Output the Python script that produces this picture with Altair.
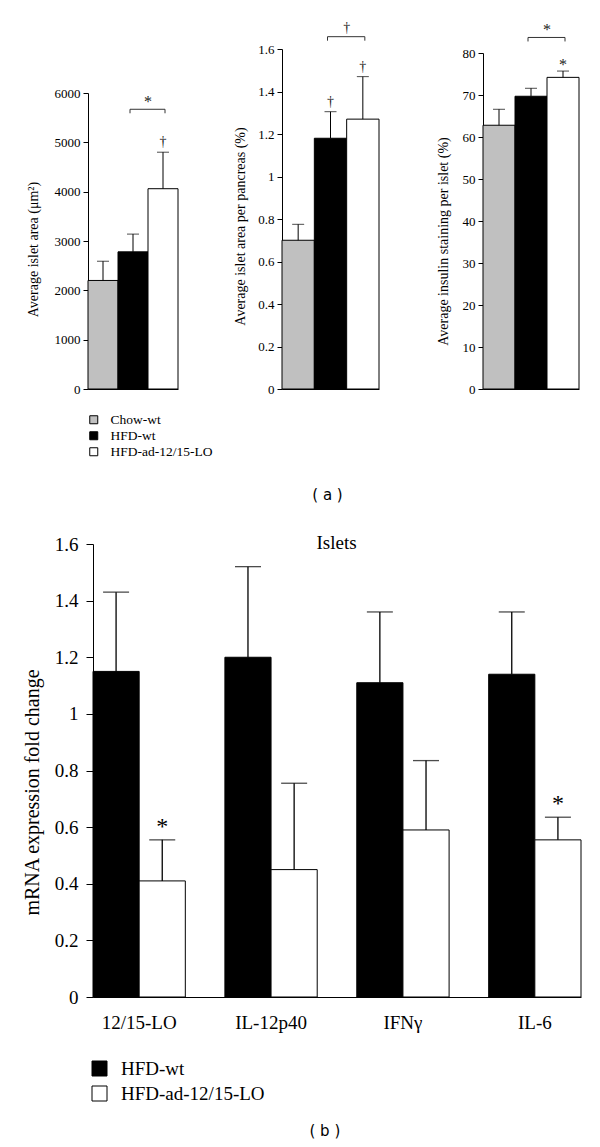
import altair as alt
import pandas as pd

SERIF = "Liberation Serif"

# ---------------- panel (a) data ----------------
groups = ["Chow-wt", "HFD-wt", "HFD-ad-12/15-LO"]
group_colors = ["#c0c0c0", "#000000", "#ffffff"]

area_mean = [2200, 2780, 4060]
area_sem = [390, 360, 740]
area_marks = ["", "", "†"]

pancreas_mean = [0.70, 1.18, 1.27]
pancreas_sem = [0.075, 0.125, 0.20]
pancreas_marks = ["", "†", "†"]

insulin_mean = [62.8, 69.7, 74.2]
insulin_sem = [3.8, 1.9, 1.5]
insulin_marks = ["", "", "*"]

bracket_symbols = ["*", "†", "*"]
bracket_levels = [5670, 1.658, 83.7]

area_ticks = [0, 1000, 2000, 3000, 4000, 5000, 6000]
pancreas_ticks = [0, 0.2, 0.4, 0.6, 0.8, 1, 1.2, 1.4, 1.6]
insulin_ticks = [0, 10, 20, 30, 40, 50, 60, 70, 80]

# ---------------- panel (b) data ----------------
genes = ["12/15-LO", "IL-12p40", "IFNγ", "IL-6"]
strains = ["HFD-wt", "HFD-ad-12/15-LO"]
strain_colors = ["#000000", "#ffffff"]
wt_mean = [1.15, 1.20, 1.11, 1.14]
wt_sem = [0.28, 0.32, 0.25, 0.22]
lo_mean = [0.41, 0.45, 0.59, 0.555]
lo_sem = [0.145, 0.305, 0.245, 0.08]
lo_marks = ["*", "", "", "*"]
fold_ticks = [0, 0.2, 0.4, 0.6, 0.8, 1, 1.2, 1.4, 1.6]

H = 340


def sym_text(base, x, y, dagger_dy, star_dy, size, field):
    dag = base.transform_filter(alt.datum[field] != "*").mark_text(
        font=SERIF, fontSize=size, baseline="alphabetic", dy=dagger_dy,
        fill="#222").encode(x=x, y=y, text=f"{field}:N")
    star = base.transform_filter(alt.datum[field] == "*").mark_text(
        font=SERIF, fontSize=size + 2, baseline="alphabetic", dy=star_dy,
        fill="#222").encode(x=x, y=y, text=f"{field}:N")
    return [dag, star]


def panel_a(mean, sem, marks, sym, level, ymax, ticks, fmt, title, width, top,
            title_pad, title_y, legend=None, ptitle=None):
    df = pd.DataFrame({
        "group": groups,
        "mean": mean,
        "upper": [m + s for m, s in zip(mean, sem)],
        "mark": marks,
    })
    xs = alt.Scale(domain=groups, paddingInner=0, paddingOuter=0)
    x = alt.X("group:N", sort=groups, scale=xs,
              axis=alt.Axis(labels=False, ticks=False, title=None,
                            domainColor="black", domainWidth=1))
    ys = alt.Scale(domain=[0, ymax], range=[H, top], nice=False, zero=True)
    y = alt.Y("mean:Q", scale=ys,
              axis=alt.Axis(values=ticks, format=fmt, title=title,
                            labelFontSize=13, titleFontSize=14, titleY=title_y,
                            tickSize=5, labelPadding=3, titlePadding=title_pad,
                            grid=False))
    base = alt.Chart(df)
    bars = base.mark_bar(stroke="black", strokeWidth=1).encode(
        x=x, y=y,
        fill=alt.Fill("group:N", scale=alt.Scale(domain=groups, range=group_colors),
                      legend=legend))
    err = base.mark_rule(color="black", strokeWidth=1).encode(
        x=x, y="mean:Q", y2="upper:Q")
    cap = base.mark_tick(color="black", size=12, thickness=1,
                         orient="horizontal").encode(x=x, y="upper:Q")
    sig = sym_text(base, x, alt.Y("upper:Q"), -6, -1, 14, "mark")

    bdf = pd.DataFrame({"a": [groups[1]], "b": [groups[2]],
                        "level": [level], "sym": [sym]})
    bb = alt.Chart(bdf)
    hline = bb.mark_rule(color="#333", strokeWidth=1, xOffset=-3, x2Offset=2).encode(
        x=alt.X("a:N"), x2="b:N", y="level:Q")
    lend = bb.mark_rule(color="#333", strokeWidth=1, xOffset=-3, y2Offset=4).encode(
        x=alt.X("a:N"), y="level:Q", y2="level:Q")
    rend = bb.mark_rule(color="#333", strokeWidth=1, xOffset=2, y2Offset=4).encode(
        x=alt.X("b:N"), y="level:Q", y2="level:Q")
    btxt = sym_text(bb, alt.X("a:N", bandPosition=1), alt.Y("level:Q"), -5, -2, 14, "sym")
    ch = alt.layer(bars, err, cap, *sig, hline, lend, rend, *btxt).properties(
        width=width, height=H)
    if ptitle is not None:
        ch = ch.properties(title=ptitle)
    return ch


legend_a = alt.Legend(orient="none", legendX=-1, legendY=364, title=None,
                      symbolType="square", symbolSize=64,
                      symbolStrokeColor="black", symbolStrokeWidth=1,
                      labelFont=SERIF, labelFontSize=13.5, labelColor="black",
                      labelOffset=10, rowPadding=1, direction="vertical")

p1 = panel_a(area_mean, area_sem, area_marks, bracket_symbols[0], bracket_levels[0],
             6000, area_ticks, "d", "Average islet area (μm²)", 90, 44, 14, 200,
             legend=legend_a)
p2 = panel_a(pancreas_mean, pancreas_sem, pancreas_marks, bracket_symbols[1],
             bracket_levels[1], 1.6, pancreas_ticks, "~g",
             "Average islet area per pancreas (%)", 97, 0, 10, 177,
             ptitle=alt.TitleParams("( a )", orient="bottom", font="DejaVu Sans",
                                    fontSize=15, fontWeight="normal", color="black",
                                    offset=92, dx=-3))
p3 = panel_a(insulin_mean, insulin_sem, insulin_marks, bracket_symbols[2],
             bracket_levels[2], 80, insulin_ticks, "d",
             "Average insulin staining per islet (%)", 96, 4, 12, 192)

top = alt.hconcat(p1, p2, p3, spacing=104, bounds="flush").resolve_scale(
    x="independent", y="independent", fill="independent").resolve_legend(
    fill="independent")

# ---------------- panel (b) ----------------
rows = []
for g, m, s in zip(genes, wt_mean, wt_sem):
    rows.append({"gene": g, "strain": strains[0], "mean": m, "upper": m + s, "mark": ""})
for g, m, s, k in zip(genes, lo_mean, lo_sem, lo_marks):
    rows.append({"gene": g, "strain": strains[1], "mean": m, "upper": m + s, "mark": k})
dfb = pd.DataFrame(rows)

BW = 493
xb = alt.X("gene:N", sort=genes,
           scale=alt.Scale(domain=genes, paddingInner=0.30, paddingOuter=0,
                           range=[5, BW]),
           axis=alt.Axis(title=None, labelAngle=0, ticks=False, labelFontSize=19,
                         labelPadding=16, domainColor="black"))
xob = alt.XOffset("strain:N", sort=strains,
                  scale=alt.Scale(domain=strains, paddingInner=0, paddingOuter=0))
yb = alt.Y("mean:Q", scale=alt.Scale(domain=[0, 1.6], nice=False),
           axis=alt.Axis(values=fold_ticks, format="~g", offset=-5,
                         title="mRNA expression fold change", labelFontSize=19,
                         titleFontSize=20, titleY=248, tickSize=7, labelPadding=8,
                         titlePadding=12, grid=False))
legend_b = alt.Legend(orient="none", legendX=2, legendY=515, title=None,
                      symbolType="square", symbolSize=225,
                      symbolStrokeColor="black", symbolStrokeWidth=1,
                      labelFont=SERIF, labelFontSize=19, labelColor="black",
                      labelOffset=12, rowPadding=5, direction="vertical")
bb = alt.Chart(dfb)
bars_b = bb.mark_bar(stroke="black", strokeWidth=1).encode(
    x=xb, xOffset=xob, y=yb,
    fill=alt.Fill("strain:N", scale=alt.Scale(domain=strains, range=strain_colors),
                  legend=legend_b))
err_b = bb.mark_rule(color="black", strokeWidth=1.3).encode(
    x=xb, xOffset=xob, y="mean:Q", y2="upper:Q")
cap_b = bb.mark_tick(color="black", size=26, thickness=1.3, orient="horizontal").encode(
    x=xb, xOffset=xob, y="upper:Q")
sig_b = bb.transform_filter(alt.datum.mark != "").mark_text(
    font=SERIF, fontSize=24, baseline="alphabetic", dy=-6, fill="black").encode(
    x=xb, xOffset=xob, y="upper:Q", text="mark:N")

pb = alt.layer(bars_b, err_b, cap_b, sig_b).properties(
    width=BW, height=453,
    title=alt.TitleParams("Islets", font=SERIF, fontSize=19, fontWeight="normal",
                          color="black", anchor="middle", frame="group",
                          offset=-33, baseline="alphabetic", dx=2))

chart = alt.vconcat(top, pb, spacing=495, bounds="flush").resolve_scale(
    x="independent", y="independent", fill="independent").resolve_legend(
    fill="independent").properties(
    title=alt.TitleParams("( b )", orient="bottom", anchor="middle",
                          font="DejaVu Sans", fontSize=15,
                          fontWeight="normal", color="black", offset=20, dx=23),
    padding={"left": 14, "top": 12, "right": 5, "bottom": 0},
).configure_view(stroke=None).configure_axis(
    labelFont=SERIF, titleFont=SERIF, labelColor="black", titleColor="black",
    domainColor="black", tickColor="black", titleFontWeight="normal", grid=False)

chart.save("out.html", embed_options={"renderer": "svg", "actions": False})
